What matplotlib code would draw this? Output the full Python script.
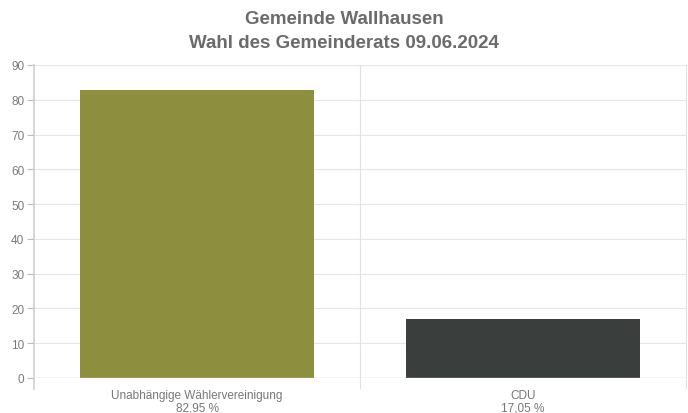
import matplotlib
matplotlib.use("Agg")
import matplotlib.pyplot as plt

# ---------- data ----------
parties = ["Unabhängige Wählervereinigung", "CDU"]
shares = [82.95, 17.05]
bar_colors = ["#8d8f3f", "#3a3e3d"]
y_ticks = [0, 10, 20, 30, 40, 50, 60, 70, 80, 90]

plt.rcParams["font.family"] = ["Liberation Sans", "DejaVu Sans"]

fig = plt.figure(figsize=(6.88, 4.14), dpi=100)
ax = fig.add_axes([34 / 688, 35 / 414, 652 / 688, 313 / 414])

xs = list(range(len(parties)))
ax.bar(xs, shares, width=0.72, color=bar_colors, zorder=3)

ax.set_xlim(-0.5, len(parties) - 0.5)
ax.set_ylim(0, 90)
ax.set_yticks(y_ticks)
ax.set_yticklabels([str(t) for t in y_ticks], fontsize=8.5, color="#7a7a7a")
ax.tick_params(axis="y", length=5, color="#bbbbbb", pad=2)

# grid
for t in y_ticks[1:]:
    ax.axhline(t, color="#e6e6e6", lw=0.8, zorder=1)
for b in [x + 0.5 for x in xs]:
    ax.plot([b, b], [-3, 90], color="#e0e0e0", lw=0.8, zorder=1, clip_on=False)
ax.axhline(0, color="#c8c8c8", lw=1.0, zorder=4)
ax.plot([-0.5, -0.5], [-3.2, 90], color="#cfcfcf", lw=1.2, zorder=4, clip_on=False)

for s in ax.spines.values():
    s.set_visible(False)

ax.set_xticks(xs)
ax.set_xticklabels([f"{p}\n{v:.2f} %".replace(".", ",") for p, v in zip(parties, shares)],
                   fontsize=8.5, color="#777777", linespacing=1.0)
ax.tick_params(axis="x", length=0, pad=8)

fig.text(0.5, 1 - 20 / 414, "Gemeinde Wallhausen", ha="center", va="center",
         fontsize=13.5, fontweight="bold", color="#6b6b6b")
fig.text(0.5, 1 - 44 / 414, "Wahl des Gemeinderats 09.06.2024", ha="center", va="center",
         fontsize=13.5, fontweight="bold", color="#6b6b6b")

fig.savefig("out.png", dpi=100)
